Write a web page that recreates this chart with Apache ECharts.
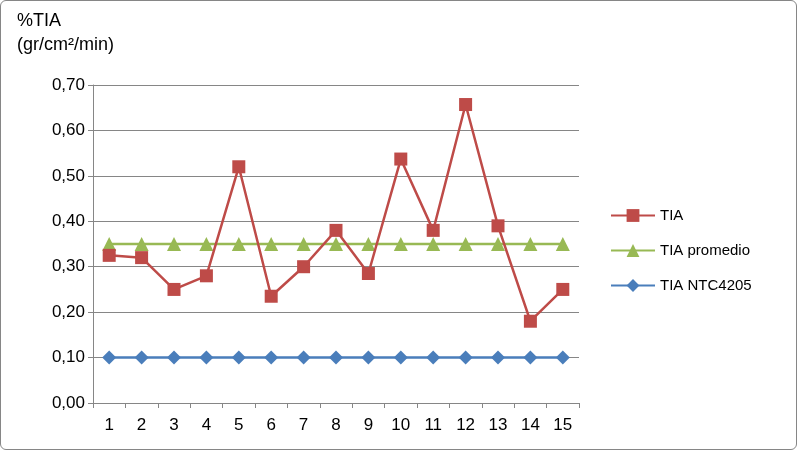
<!DOCTYPE html>
<html><head><meta charset="utf-8">
<script src="https://cdn.jsdelivr.net/npm/echarts@6/dist/echarts.min.js"></script>
<style>html,body{margin:0;padding:0;background:#fff}
#container{width:795px;height:448px;border:1px solid #868686;border-radius:6px}</style>
</head><body><div id="container"></div>
<script>
var categories = ['1','2','3','4','5','6','7','8','9','10','11','12','13','14','15'];
var tia = [0.325, 0.32, 0.25, 0.28, 0.52, 0.235, 0.30, 0.38, 0.285, 0.537, 0.38, 0.657, 0.39, 0.18, 0.25];
var tiaPromedio = [0.35, 0.35, 0.35, 0.35, 0.35, 0.35, 0.35, 0.35, 0.35, 0.35, 0.35, 0.35, 0.35, 0.35, 0.35];
var tiaNtc = [0.10, 0.10, 0.10, 0.10, 0.10, 0.10, 0.10, 0.10, 0.10, 0.10, 0.10, 0.10, 0.10, 0.10, 0.10];

var myChart = echarts.init(document.getElementById('container'));
var font = 'Liberation Sans, Arial, sans-serif';
var option = {
    animation: false,
    textStyle: {fontFamily: font},
    graphic: [{
        type: 'text', left: 16, top: 8,
        style: {text: '%TIA\n(gr/cm²/min)', font: '18px ' + font, fill: '#000', lineHeight: 24, align: 'left'}
    }],
    legend: {
        orient: 'vertical', left: 604, top: 202, itemGap: 20,
        itemWidth: 44, itemHeight: 16,
        textStyle: {fontSize: 15, color: '#000', fontFamily: font},
        data: ['TIA', 'TIA promedio', 'TIA NTC4205']
    },
    grid: {left: 92, right: 217, top: 84, bottom: 46},
    xAxis: {
        type: 'category', data: categories, boundaryGap: true,
        axisLine: {lineStyle: {color: '#868686'}},
        axisTick: {show: true, lineStyle: {color: '#868686'}},
        axisLabel: {fontSize: 17, color: '#000', margin: 14}
    },
    yAxis: {
        type: 'value', min: 0, max: 0.7, interval: 0.1,
        axisLine: {show: true, lineStyle: {color: '#868686'}},
        axisTick: {show: true, lineStyle: {color: '#868686'}},
        splitLine: {lineStyle: {color: '#868686'}},
        axisLabel: {fontSize: 17, color: '#000', formatter: function (v) { return v.toFixed(2).replace('.', ','); }}
    },
    series: [
        {name: 'TIA', type: 'line', data: tia, color: '#be4b48', symbol: 'rect', symbolSize: 13,
         lineStyle: {width: 2.5}, z: 4},
        {name: 'TIA promedio', type: 'line', data: tiaPromedio, color: '#98b954', symbol: 'triangle', symbolSize: 14,
         lineStyle: {width: 2.5}, z: 3},
        {name: 'TIA NTC4205', type: 'line', data: tiaNtc, color: '#4a7ebb', symbol: 'diamond', symbolSize: 14,
         lineStyle: {width: 2.5}, z: 3}
    ]
};
myChart.setOption(option, true);
</script></body></html>
